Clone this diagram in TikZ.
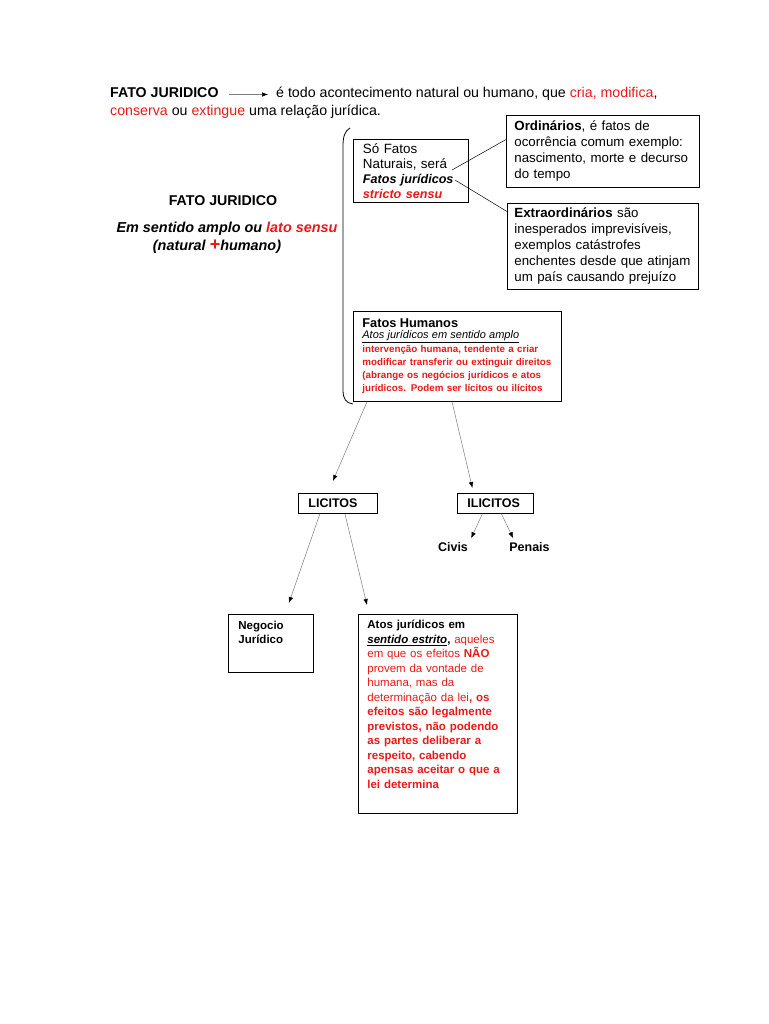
\documentclass[tikz,border=0pt]{standalone}
\usepackage{fontspec}
\setmainfont{Liberation Sans}
\usepackage{xcolor}
\usetikzlibrary{positioning, arrows.meta}

\definecolor{jured}{RGB}{235,25,25}
\definecolor{linha}{RGB}{125,125,125}

\tikzset{
	caixa/.style={draw, line width=0.8pt, anchor=north west, align=left, inner xsep=9pt, inner ysep=3pt},
	seta/.style={draw=linha, line width=0.5pt, -{Latex[length=6pt,width=4.5pt,black]}},
	liga/.style={draw, line width=0.5pt},
	rotulo/.style={font=\fontsize{12.5}{15}\selectfont\bfseries, inner sep=0pt},
	linhatopo/.style={anchor=base west, inner sep=0pt, text height=10pt, text depth=3pt}
}

\begin{document}
\begin{tikzpicture}[x=1pt, y=-1pt]
		\useasboundingbox (0,0) rectangle (768,1024);
		\fill[white] (0,0) rectangle (768,1024);
		
		% cabecalho
		\node[linhatopo, font=\fontsize{14.2}{17}\selectfont\bfseries] (titulo) at (110,98) {FATO JURIDICO};
		\node[linhatopo, font=\fontsize{14.2}{17}\selectfont] (corpo) at (276,98) {é todo acontecimento natural ou humano, que \textcolor{jured}{cria, modifica},};
		\node[linhatopo, font=\fontsize{14.2}{17}\selectfont] (corpo2) at (110,116) {\textcolor{jured}{conserva} ou \textcolor{jured}{extingue} uma relação jurídica.};
		\draw[seta, shorten <=10pt, shorten >=8pt] (titulo.east) -- (corpo.west);
		
		% bloco da esquerda
		\node[anchor=base, inner sep=0pt, font=\fontsize{14.2}{16}\selectfont\bfseries] (fato) at (223,206) {FATO JURIDICO};
		\node[anchor=base, inner sep=0pt, font=\fontsize{14.4}{16}\selectfont\bfseries\itshape] (amplo) at (227,233) {Em sentido amplo ou \textcolor{jured}{lato sensu}};
		\node[anchor=base, inner sep=0pt, font=\fontsize{14.4}{16}\selectfont\bfseries\itshape] (natural) at (217,250) {(natural {\color{jured}\upshape\fontsize{18}{18}\selectfont +}humano)};
		
		% chave
		\draw[line width=0.8pt] (350,128) .. controls (345,131) and (343,136) .. (343,146) -- (343,390) .. controls (343,399) and (346,403) .. (353,404);
		
		% fatos naturais
		\node[caixa, font=\fontsize{13.4}{15}\selectfont, inner xsep=9.5pt, inner ysep=2.5pt, text width=96pt, minimum height=63pt] (sofatos) at (353,139) {Só Fatos\\Naturais, será\\{\fontsize{12.6}{15}\selectfont\textbf{\textit{Fatos jurídicos}}}\\{\fontsize{12.6}{15}\selectfont\textcolor{jured}{\textbf{\textit{stricto sensu}}}}};
		\node[caixa, font=\fontsize{13.3}{16}\selectfont, inner xsep=8pt, text width=177pt, minimum height=72pt] (ord) at (506,115) {\textbf{Ordinários}, é fatos de\\ocorrência comum exemplo:\\nascimento, morte e decurso\\do tempo};
		\node[caixa, font=\fontsize{13.3}{16}\selectfont, inner xsep=7pt, text width=177pt, minimum height=86pt] (extra) at (507,203) {\textbf{Extraordinários} são\\inesperados imprevisíveis,\\exemplos catástrofes\\enchentes desde que atinjam\\um país causando prejuízo};
		
		\coordinate (sera) at (452,170);
		\coordinate (fjur) at (455,180);
		\draw[liga] (sera) -- (ord.173);
		\draw[liga] (fjur) -- (extra.160);
		
		% fatos humanos
		\node[caixa, font=\fontsize{9.8}{13}\selectfont, inner xsep=9pt, text width=190pt, minimum height=90pt] (hum) at (353,311) {{\fontsize{12.8}{13}\selectfont\textbf{Fatos Humanos}}\\[-2pt]
			{\fontsize{11}{13}\selectfont\underline{\textit{Atos jurídicos em sentido amplo}}}\\[1pt]
			\textcolor{jured}{\textbf{intervenção humana, tendente a criar}}\\
			\textcolor{jured}{\textbf{modificar transferir ou extinguir direitos}}\\
			\textcolor{jured}{\textbf{(abrange os negócios jurídicos e atos}}\\
			\textcolor{jured}{\textbf{jurídicos. Podem ser lícitos ou ilícitos}}};
		
		% licitos e ilicitos
		\node[caixa, rotulo, inner xsep=10pt, text width=59pt, minimum height=20pt] (lic) at (298,493) {LICITOS};
		\node[caixa, rotulo, inner xsep=10pt, text width=56pt, minimum height=20pt] (ilic) at (457,493) {ILICITOS};
		\node[rotulo] (civ) at (453,547) {Civis};
		\node[rotulo, right=41pt of civ] (pen) {Penais};
		
		\node[caixa, font=\fontsize{11.5}{14.5}\selectfont\bfseries, inner xsep=10pt, inner ysep=6.5pt, text width=65pt, text depth=37pt] (neg) at (228,614) {Negocio\\Jurídico};
		\node[caixa, font=\fontsize{11.5}{14.5}\selectfont, inner xsep=9pt, inner ysep=6pt, text width=141pt, text depth=179pt] (atos) at (358,614) {\textbf{Atos jurídicos em}\\
			\textbf{\underline{\textit{sentido estrito}},} \textcolor{jured}{aqueles}\\
			\textcolor{jured}{em que os efeitos \textbf{NÃO}}\\
			\textcolor{jured}{provem da vontade de}\\
			\textcolor{jured}{humana, mas da}\\
			\textcolor{jured}{determinação da lei\textbf{, os}}\\
			\textcolor{jured}{\textbf{efeitos são legalmente}}\\
			\textcolor{jured}{\textbf{previstos, não podendo}}\\
			\textcolor{jured}{\textbf{as partes deliberar a}}\\
			\textcolor{jured}{\textbf{respeito, cabendo}}\\
			\textcolor{jured}{\textbf{apensas aceitar o que a}}\\
			\textcolor{jured}{\textbf{lei determina}}};
		
		\draw[seta] ([xshift=14pt]hum.south west) -- ([xshift=-5pt,yshift=12pt]lic.north);
		\draw[seta] ([xshift=99pt]hum.south west) -- ([xshift=-23pt,yshift=5pt]ilic.north);
		\draw[seta] ([xshift=-13pt]ilic.south) -- ([xshift=3pt,yshift=4pt]civ.north east);
		\draw[seta] ([xshift=6pt]ilic.south) -- ([xshift=4pt,yshift=4pt]pen.north west);
		\draw[seta] ([xshift=-18pt]lic.south) -- ([xshift=18pt,yshift=11pt]neg.north);
		\draw[seta] ([xshift=7pt]lic.south) -- ([xshift=9pt,yshift=9pt]atos.north west);
	\end{tikzpicture}
\end{document}
